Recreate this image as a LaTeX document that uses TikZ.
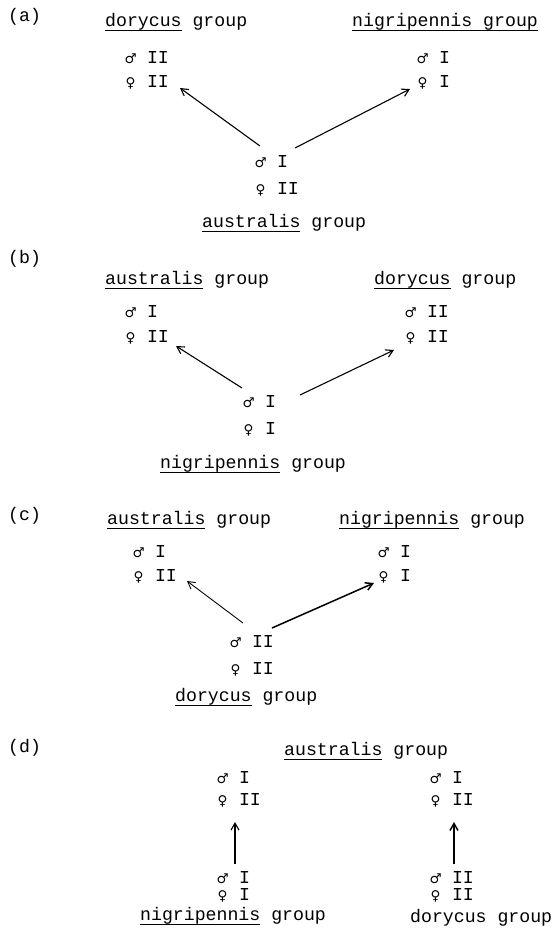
\documentclass[tikz,border=0pt]{standalone}
\usepackage{fontspec}
\setmainfont{Liberation Mono}
\newfontfamily\symf{DejaVu Sans}
\usetikzlibrary{arrows.meta}
\newcommand\gsym[1]{\makebox[10.9pt]{\symf\fontsize{13.5}{14}\selectfont #1}}
\newcommand\ul[1]{\sbox0{#1}\rlap{\rule[-4.6pt]{\wd0}{0.9pt}}\usebox0}
\newcommand\tw{\fontsize{18.2}{22}\selectfont}
\begin{document}
\begin{tikzpicture}[x=1pt,y=-1pt,
  lab/.style={anchor=base west,inner sep=0pt,font=\tw},
  arr/.style={line width=1.1pt,-{Straight Barb[length=7pt,width=8pt]}},
  arrb/.style={line width=1.5pt,-{Straight Barb[length=7pt,width=8pt]}}]
\useasboundingbox (0,0) rectangle (552,930);
% ---------- (a)
\node[lab] (la) at (8,21) {(a)};
\node[lab] (a1t) at (105,26.5) {\ul{dorycus} group};
\node[lab] (a2t) at (352,26.5) {\ul{nigripennis group}};
\node[lab] (a1m) at (125,63) {\gsym{♂} II};
\node[lab] (a1f) at (125,87) {\gsym{♀} II};
\node[lab] (a2m) at (417,63) {\gsym{♂} I};
\node[lab] (a2f) at (417,87) {\gsym{♀} I};
\node[lab] (a0m) at (255,167) {\gsym{♂} I};
\node[lab] (a0f) at (255,194) {\gsym{♀} II};
\node[lab] (a0t) at (202,227) {\ul{australis} group};
\coordinate (a0l) at (260,146);
\coordinate (a0r) at (295,148);
\coordinate (a1e) at (180,88);
\coordinate (a2e) at (410,89);
\draw[arr] (a0l) -- (a1e);
\draw[arr] (a0r) -- (a2e);
% ---------- (b)
\node[lab] (lb) at (8,263) {(b)};
\node[lab] (b1t) at (105,284) {\ul{australis} group};
\node[lab] (b2t) at (374,284) {\ul{dorycus} group};
\node[lab] (b1m) at (125,317) {\gsym{♂} I};
\node[lab] (b1f) at (125,342) {\gsym{♀} II};
\node[lab] (b2m) at (405,317) {\gsym{♂} II};
\node[lab] (b2f) at (405,342) {\gsym{♀} II};
\node[lab] (b0m) at (243,407) {\gsym{♂} I};
\node[lab] (b0f) at (243,434) {\gsym{♀} I};
\node[lab] (b0t) at (160,468) {\ul{nigripennis} group};
\coordinate (b0l) at (242,388);
\coordinate (b0r) at (300,395);
\coordinate (b1e) at (176,346);
\coordinate (b2e) at (394,350);
\draw[arr] (b0l) -- (b1e);
\draw[arr] (b0r) -- (b2e);
% ---------- (c)
\node[lab] (lc) at (8,520) {(c)};
\node[lab] (c1t) at (107,524) {\ul{australis} group};
\node[lab] (c2t) at (339,524) {\ul{nigripennis} group};
\node[lab] (c1m) at (133,557) {\gsym{♂} I};
\node[lab] (c1f) at (133,581) {\gsym{♀} II};
\node[lab] (c2m) at (378,557) {\gsym{♂} I};
\node[lab] (c2f) at (378,581) {\gsym{♀} I};
\node[lab] (c0m) at (230,647) {\gsym{♂} II};
\node[lab] (c0f) at (230,674) {\gsym{♀} II};
\node[lab] (c0t) at (175,701) {\ul{dorycus} group};
\coordinate (c0l) at (243,623);
\coordinate (c0r) at (272,628);
\coordinate (c1e) at (187,581);
\coordinate (c2e) at (374,583);
\draw[line width=0.9pt,-{Straight Barb[length=7pt,width=8pt]}] (c0l) -- (c1e);
\draw[arrb] (c0r) -- (c2e);
% ---------- (d)
\node[lab] (ld) at (8,752) {(d)};
\node[lab] (d0t) at (284,755) {\ul{australis} group};
\node[lab] (d1m) at (217,783) {\gsym{♂} I};
\node[lab] (d1f) at (217,805) {\gsym{♀} II};
\node[lab] (d2m) at (430,783) {\gsym{♂} I};
\node[lab] (d2f) at (430,805) {\gsym{♀} II};
\node[lab] (d3m) at (217,883) {\gsym{♂} I};
\node[lab] (d3f) at (217,900) {\gsym{♀} I};
\node[lab] (d4m) at (430,883) {\gsym{♂} II};
\node[lab] (d4f) at (430,900) {\gsym{♀} II};
\node[lab] (d3t) at (140,920) {\ul{nigripennis} group};
\node[lab] (d4t) at (410,922) {dorycus group};
\coordinate (d3s) at (235,864);
\coordinate (d3e) at (235,822);
\coordinate (d4s) at (454,864);
\coordinate (d4e) at (454,822);
\draw[arr] (d3s) -- (d3e);
\draw[arrb] (d4s) -- (d4e);
\end{tikzpicture}
\end{document}
